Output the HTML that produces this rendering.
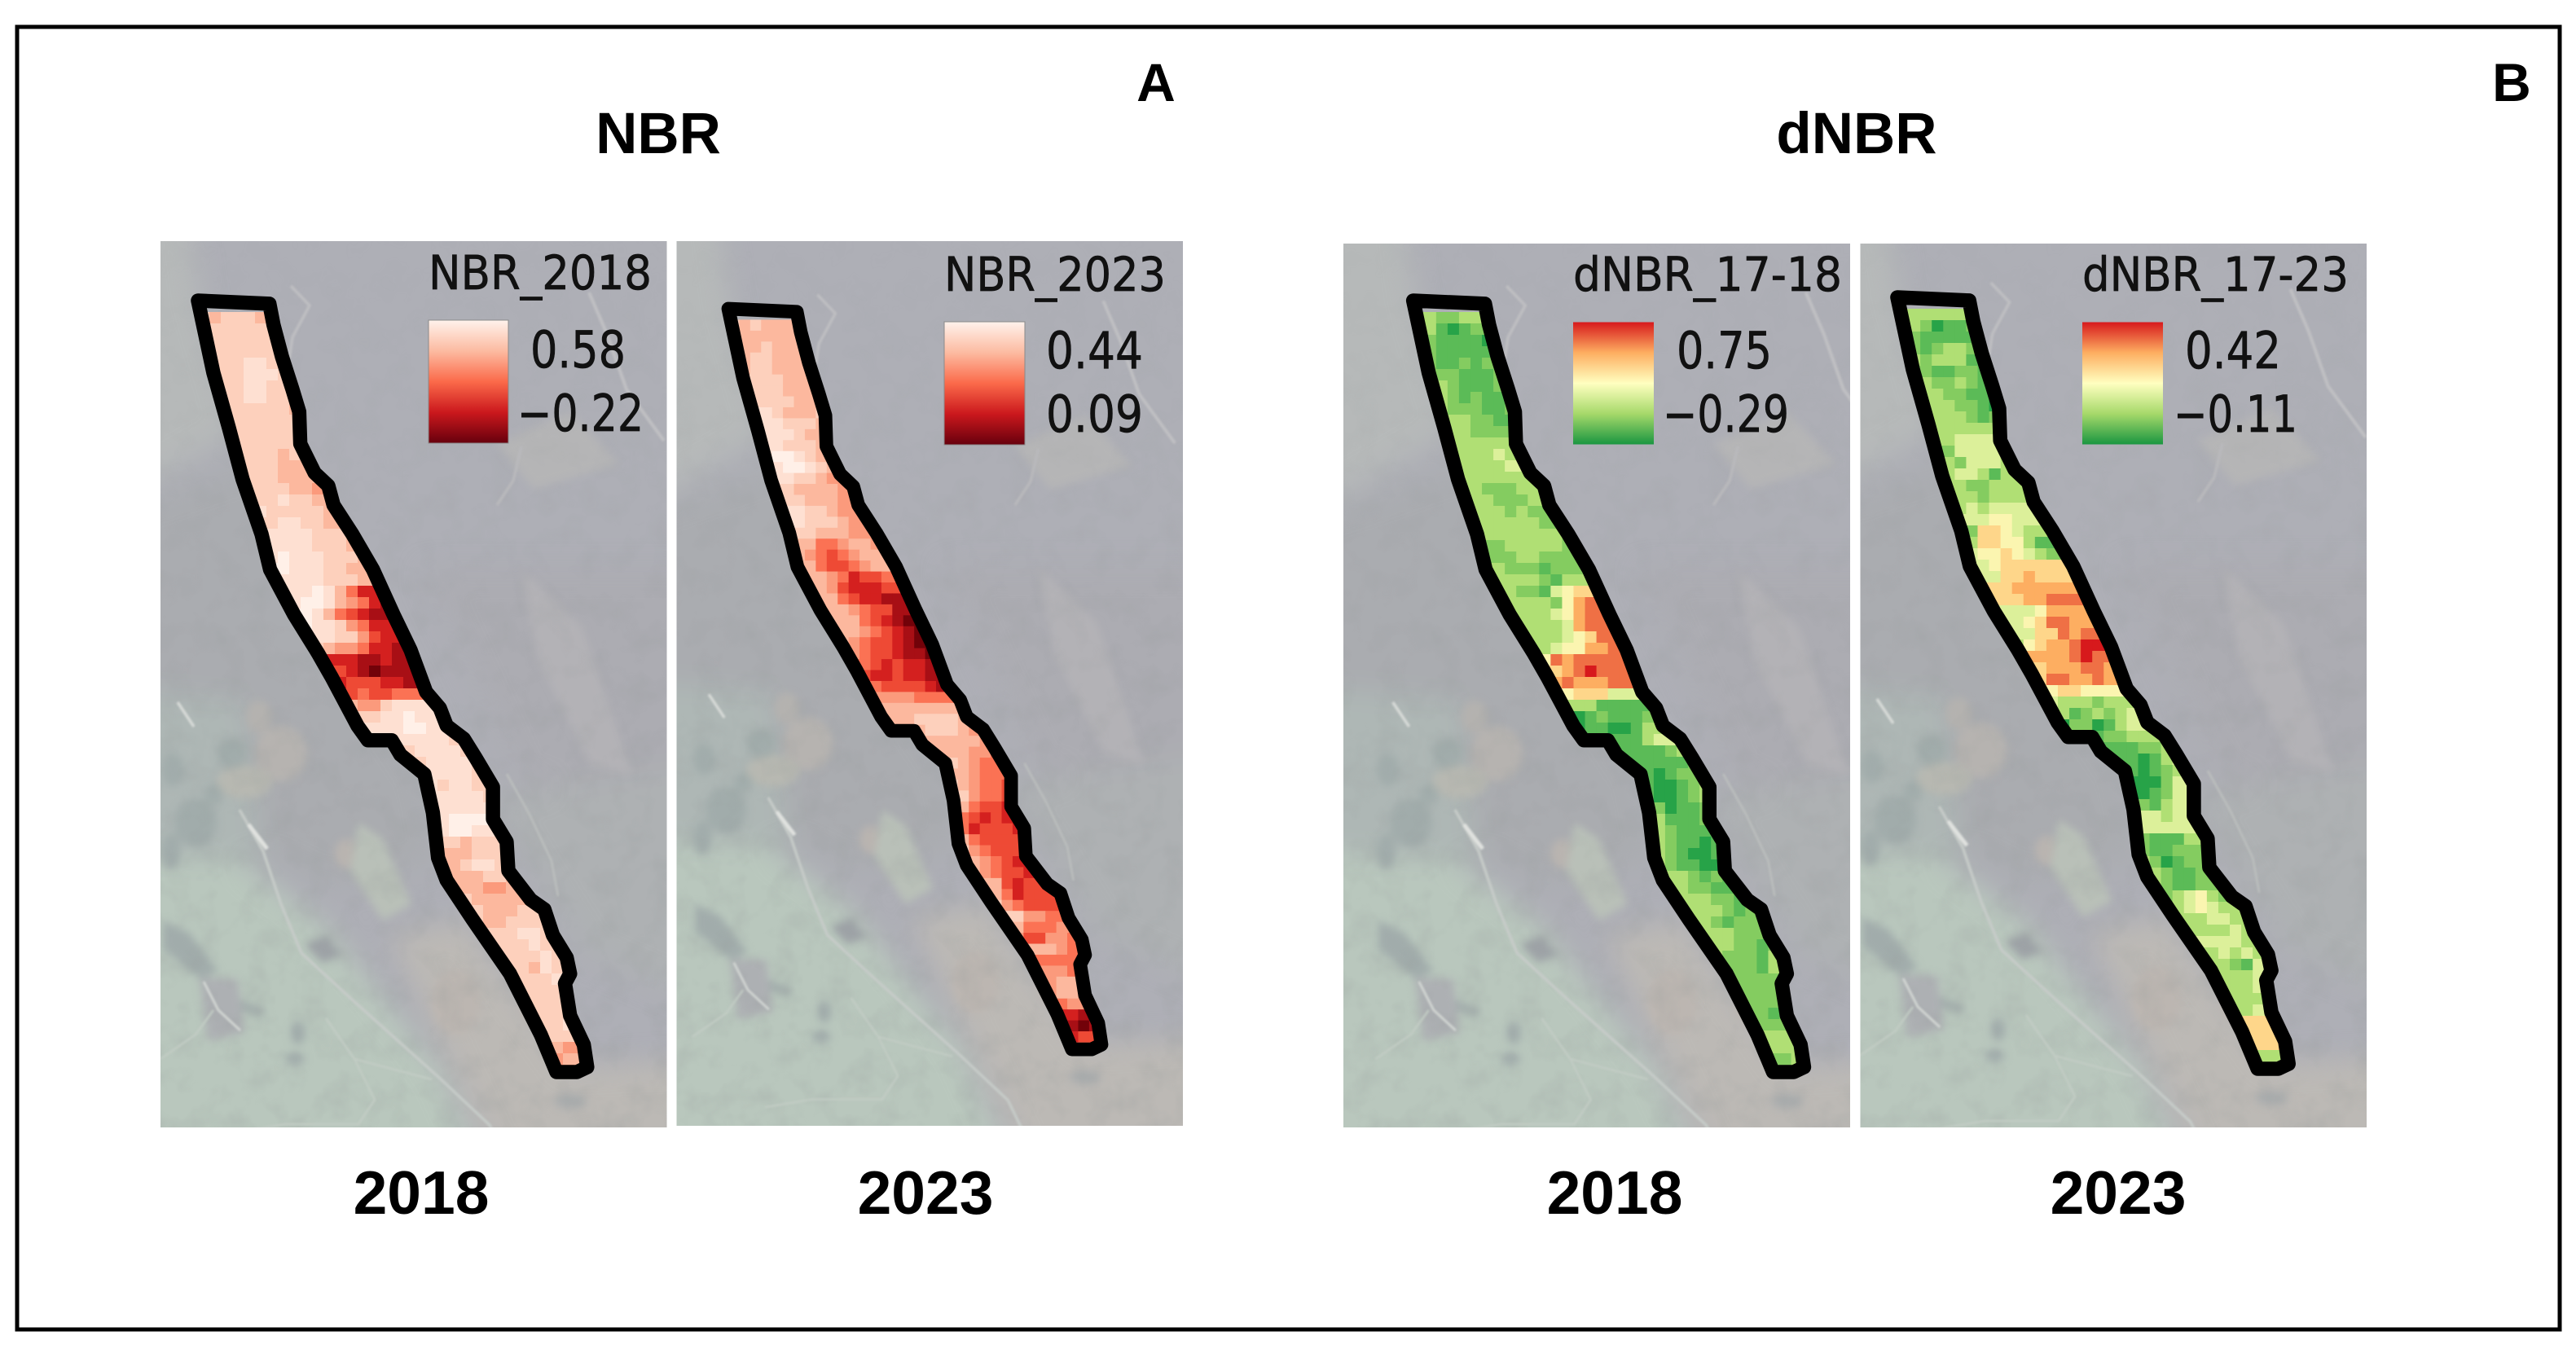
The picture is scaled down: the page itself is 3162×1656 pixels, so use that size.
<!DOCTYPE html>
<html lang="en">
<head>
<meta charset="utf-8">
<title>NBR and dNBR maps</title>
<style>
html,body{margin:0;padding:0;background:#fff;width:3162px;height:1656px;overflow:hidden}
svg{display:block}
.h{font-family:"Liberation Sans",Arial,sans-serif;font-weight:700;fill:#000;text-anchor:middle}
.l{font-family:"DejaVu Sans",sans-serif;fill:#111;stroke:#111;stroke-width:.7;text-anchor:start}
</style>
</head>
<body>
<svg id="fig" xmlns="http://www.w3.org/2000/svg" width="3162" height="1656" viewBox="0 0 3162 1656">
<defs>
<filter id="b16" x="-30%" y="-30%" width="160%" height="160%" color-interpolation-filters="sRGB"><feGaussianBlur stdDeviation="16"/></filter>
<filter id="b4" x="-30%" y="-30%" width="160%" height="160%" color-interpolation-filters="sRGB"><feGaussianBlur stdDeviation="5"/></filter>
<filter id="b1" x="-20%" y="-20%" width="140%" height="140%" color-interpolation-filters="sRGB"><feGaussianBlur stdDeviation="1.4"/></filter>
<filter id="mottle" x="0" y="0" width="100%" height="100%" color-interpolation-filters="sRGB">
<feTurbulence type="fractalNoise" baseFrequency=".03" numOctaves="3" seed="7"/>
<feColorMatrix values="0 0 0 0 .58  0 0 0 0 .60  0 0 0 0 .60  0 0 0 1.6 -.72"/>
</filter>
<linearGradient id="mottleFade" x1="0" y1="0" x2="0" y2="1">
<stop offset="0" stop-color="#fff" stop-opacity="0"/><stop offset=".45" stop-color="#fff" stop-opacity=".25"/><stop offset="1" stop-color="#fff" stop-opacity=".3"/>
</linearGradient>
<mask id="mottleMask" maskUnits="userSpaceOnUse" x="120" y="250" width="760" height="1200"><rect x="120" y="250" width="760" height="1200" fill="url(#mottleFade)"/></mask>
<linearGradient id="redsRamp" x1="0" y1="0" x2="0" y2="1">
<stop offset="0" stop-color="#fff2ec"/><stop offset=".25" stop-color="#fcbba1"/><stop offset=".5" stop-color="#fb6a4a"/><stop offset=".75" stop-color="#cb181d"/><stop offset="1" stop-color="#67000d"/>
</linearGradient>
<linearGradient id="rdylgnRamp" x1="0" y1="0" x2="0" y2="1">
<stop offset="0" stop-color="#d7191c"/><stop offset=".25" stop-color="#fdae61"/><stop offset=".5" stop-color="#ffffc0"/><stop offset=".75" stop-color="#a6d96a"/><stop offset="1" stop-color="#1a9641"/>
</linearGradient>
<g id="aerial">
<rect x="120" y="250" width="760" height="1200" fill="#aeafb6"/>
<g filter="url(#b16)">
<polygon points="100,240 228,240 246,370 292,530 100,640" fill="#b6b9b9"/>
<polygon points="100,640 330,560 420,800 520,950 540,1060 400,1090 300,1040 100,960" fill="#aaacb0"/>
<polygon points="520,700 900,700 900,1000 640,960" fill="#acacb2"/>
<polygon points="600,980 900,930 900,1250 720,1170" fill="#aeb1b3"/>
<polygon points="90,1000 300,1060 400,1136 540,1314 610,1470 90,1470" fill="#b9c7bd"/>
<polygon points="90,840 300,860 320,1060 90,1040" fill="#aeb7b5"/>
<polygon points="480,1150 570,1130 700,1310 900,1300 900,1470 630,1470" fill="#bcb9b5"/>
</g>
<g filter="url(#b4)">
<ellipse cx="345" cy="925" rx="32" ry="34" fill="#b6b3b0"/>
<ellipse cx="318" cy="880" rx="16" ry="20" fill="#b4b2af"/>
<ellipse cx="300" cy="960" rx="34" ry="20" fill="#b7b8b1"/>
<ellipse cx="425" cy="1048" rx="14" ry="18" fill="#b9b4b0"/>
<polygon points="640,700 715,770 775,950 725,940 660,810" fill="#b3b2b6"/>
<polygon points="610,545 700,505 760,570 655,600" fill="#b5b5b6"/>
<polygon points="440,1010 470,1030 505,1110 470,1130 430,1070" fill="#b9c0b8"/>
<ellipse cx="560" cy="1230" rx="30" ry="40" fill="#bcb6b1"/>
<ellipse cx="660" cy="1240" rx="22" ry="18" fill="#bdb6b0"/>
<g fill="#a1acab">
<ellipse cx="240" cy="1010" rx="26" ry="30"/>
<ellipse cx="285" cy="925" rx="18" ry="18"/>
<ellipse cx="212" cy="945" rx="14" ry="20"/>
<ellipse cx="262" cy="975" rx="12" ry="12"/>
<ellipse cx="210" cy="1045" rx="12" ry="22"/>
<polygon points="200,1130 232,1145 268,1192 246,1202 200,1165"/>
<polygon points="292,1226 325,1240 322,1248 288,1238"/>
<ellipse cx="366" cy="1268" rx="9" ry="14"/>
<ellipse cx="362" cy="1300" rx="12" ry="8"/>
</g>
<polygon points="374,1160 400,1148 420,1172 396,1182" fill="#9da2a6"/>
<polygon points="245,1200 292,1202 300,1268 255,1278" fill="#adb0b3"/>
<ellipse cx="700" cy="1352" rx="20" ry="9" fill="#a9acad"/>
</g>
<g mask="url(#mottleMask)"><rect x="120" y="250" width="760" height="1200" filter="url(#mottle)"/></g>
<g filter="url(#b1)" fill="none" stroke="#c6cbc8" stroke-width="3.5">
<polyline points="294,994 323,1045 345,1110 370,1170 432,1227 538,1322 601,1381 620,1420"/>
<polyline points="357,351 380,375 359,414 355,440" stroke="#bfbfc2"/>
<polyline points="723,359 745,410 769,478 815,541" stroke="#c0c0c3" stroke-width="4"/>
<polyline points="640,548 630,590 610,620" stroke="#b9b9bc"/>
<polyline points="622,950 650,1000 677,1057 685,1100" stroke="#bcbfbe" stroke-width="2.5"/>
<polyline points="197,1300 240,1270 262,1240" stroke="#c2ccc4" stroke-width="2.5"/>
<polyline points="400,1250 435,1300 530,1325" stroke="#c2ccc4" stroke-width="2.5"/>
<polyline points="435,1300 460,1350 440,1380 350,1380 290,1390" stroke="#c2ccc4" stroke-width="2.5"/>
<polyline points="250,1205 268,1240 295,1265" stroke="#d2d6d3" stroke-width="3"/>
<polyline points="305,1012 328,1042" stroke="#e0e2df" stroke-width="5"/>
<polyline points="218,862 238,892" stroke="#d8dbd8" stroke-width="3.5"/>
</g>
</g>
</defs>
<rect width="3162" height="1656" fill="#fff"/>
<rect x="21" y="33" width="3121" height="1599" fill="none" stroke="#000" stroke-width="5"/>

<text class="h" x="808" y="188" font-size="71">NBR</text>
<text class="h" x="2279" y="188" font-size="71">dNBR</text>
<text class="h" x="1419" y="124" font-size="66">A</text>
<text class="h" x="3083" y="124" font-size="66">B</text>
<text class="h" x="517" y="1490" font-size="75">2018</text>
<text class="h" x="1136" y="1490" font-size="75">2023</text>
<text class="h" x="1982" y="1490" font-size="75">2018</text>
<text class="h" x="2600" y="1490" font-size="75">2023</text>

<g id="maps"></g>

<g>
<text class="l" x="526" y="355" font-size="58" textLength="274" lengthAdjust="spacingAndGlyphs">NBR_2018</text>
<rect x="526" y="393" width="98" height="151" fill="url(#redsRamp)" stroke="#8a8a8a" stroke-width="1"/>
<text class="l" x="651" y="451" font-size="62" textLength="117" lengthAdjust="spacingAndGlyphs">0.58</text>
<text class="l" x="635" y="529" font-size="62" textLength="155" lengthAdjust="spacingAndGlyphs">−0.22</text>
</g>
<g>
<text class="l" x="1159" y="357" font-size="58" textLength="272" lengthAdjust="spacingAndGlyphs">NBR_2023</text>
<rect x="1159" y="395" width="99" height="151" fill="url(#redsRamp)" stroke="#8a8a8a" stroke-width="1"/>
<text class="l" x="1284" y="452" font-size="62" textLength="119" lengthAdjust="spacingAndGlyphs">0.44</text>
<text class="l" x="1284" y="530" font-size="62" textLength="119" lengthAdjust="spacingAndGlyphs">0.09</text>
</g>
<g>
<text class="l" x="1931" y="357" font-size="58" textLength="330" lengthAdjust="spacingAndGlyphs">dNBR_17-18</text>
<rect x="1931" y="395.5" width="99" height="150" fill="url(#rdylgnRamp)"/>
<text class="l" x="2058" y="452" font-size="62" textLength="117" lengthAdjust="spacingAndGlyphs">0.75</text>
<text class="l" x="2041" y="530" font-size="62" textLength="155" lengthAdjust="spacingAndGlyphs">−0.29</text>
</g>
<g>
<text class="l" x="2556" y="357" font-size="58" textLength="327" lengthAdjust="spacingAndGlyphs">dNBR_17-23</text>
<rect x="2556" y="395.5" width="99" height="150" fill="url(#rdylgnRamp)"/>
<text class="l" x="2682" y="452" font-size="62" textLength="118" lengthAdjust="spacingAndGlyphs">0.42</text>
<text class="l" x="2668" y="530" font-size="62" textLength="152" lengthAdjust="spacingAndGlyphs">−0.11</text>
</g>
</svg>

<script>
// Heat-map cell values, read row by row (north to south, west to east across the strip).
// Units: ramp level 0..9. Reds: 0 = palest, 9 = darkest. RdYlGn: 0 = darkest green, 9 = red.
const nbr2018Levels = [
[2,3,2,2,2,3],[2,2,2,2,2,2],[2,2,2,2,2,2],[2,2,2,2,2,2],[2,2,2,1,1,2],[2,2,1,1,1,2,3],[2,2,1,1,2,2,3],[2,2,1,1,2,2,3],[2,2,2,2,2,2,3],[2,2,2,2,2,2,2],
[2,2,2,2,2,2,2],[2,2,2,2,2,2,2],[2,2,2,2,3,2,2],[2,2,2,3,3,3,3],[2,2,2,3,3,3,3,4],[2,2,2,2,3,3,4,4],[2,2,1,2,2,3,3,3],[1,2,2,2,2,2,3,3],[2,2,1,1,2,2,3,3],[1,1,1,1,2,2,2,3],
[1,1,1,1,2,2,2,3],[1,0,1,1,1,2,2,2,3],[0,0,1,1,1,2,2,3],[1,1,1,1,2,2,2,3,3],[1,1,1,0,1,3,5,7],[1,0,0,1,3,4,5,7,8],[0,1,3,5,6,7,8,8],[0,1,1,2,4,5,7,7],[1,1,2,2,4,6,7,7],[2,3,4,4,5,7,7,8],
[7,7,7,8,8,7,8],[6,7,8,9,8,8,8],[7,6,6,6,7,7,8],[6,5,6,6,5,5,5],[3,4,4,2,1,1,1],[2,2,1,1,0,1,1],[1,1,1,1,0,0,1,1],[1,1,1,1,1,1,1,2],[2,1,1,1,1,2,3],[2,1,1,1,1,2,3,4],
[1,1,1,1,2,2],[1,2,1,1,2,2,3],[1,1,1,1,1,2,2],[1,1,1,1,1,2,3],[1,0,0,0,0,2],[1,0,0,1,1,2],[2,2,3,2,2,2],[3,3,3,2,2,2],[3,3,2,1,1,2,2],[3,3,3,2,2,3,3],
[3,3,3,4,4,3,3],[2,3,3,3,3,3,3,3],[2,3,3,3,2,2,3,3],[2,3,3,2,2,2,2,3],[2,2,2,1,1,2,2,3],[2,2,2,1,2,2,3,4],[2,2,2,2,1,2,4,4],[2,2,3,1,2,3,4],[2,2,2,1,2,3],[2,2,2,2,2,2],
[2,2,2,2,2,2],[2,2,2,2,1],[2,2,1,1,1],[2,2,2,2],[3,4,4],[4,3,3],[4,3]
];
const nbr2023Levels = [
[2,3,2,3,3,3],[3,3,3,3,3,3],[3,3,2,3,3,3],[3,2,2,3,3,3],[3,2,2,3,3,3],[2,2,2,3,3,3,3],[2,2,2,3,3,3,3],[2,2,2,2,3,3,3],[1,1,2,3,3,3,2],[1,1,2,2,2,3,3],
[1,1,1,2,3,3,3],[1,1,2,2,2,3,3],[1,0,0,1,2,3,3],[1,0,0,1,2,3,4],[1,1,2,2,3,4,4],[2,2,3,3,3,3,4],[2,2,3,3,3,4,4],[1,1,2,2,3,4,4],[1,1,2,2,2,3,4,4],[2,2,3,3,3,4,4,4],
[3,3,5,5,4,3,3,4],[3,4,5,6,5,4,3,3],[3,3,5,6,6,5,4,3],[3,3,4,5,7,6,6,5],[3,3,4,6,7,7,7,6],[3,3,5,6,7,7,8,8],[3,3,4,5,6,6,8,8],[3,3,3,5,6,7,8,9],[3,3,4,5,6,7,8,9],[3,4,5,6,6,7,8,9],
[4,5,6,6,7,8,8,9],[5,6,7,6,7,7,8],[6,7,7,6,7,7,8],[5,6,6,6,6,7,8],[4,4,4,4,5,5,5],[3,3,3,3,3,3,3],[3,3,3,2,2,2,2,3,4],[3,3,3,2,2,2,3,4],[3,3,3,3,3,4,4],[3,3,3,4,4,5],
[2,3,4,5,5,5],[3,3,4,5,5,5],[2,3,4,5,5,6],[2,4,5,5,6],[3,5,6,6,7,6],[5,6,7,6,7],[5,7,6,6,6,7],[3,5,6,6,6,6],[2,4,5,6,6,6],[3,4,5,6,7],
[3,4,5,6,6,7],[3,3,6,7,6,6],[3,5,7,6,6],[2,4,5,6,6,6,6],[2,2,4,4,5,5],[3,5,5,5,4],[4,6,6,4,4,5],[3,3,3,4,5],[5,5,5,5,5,6],[4,4,4,5,5],
[4,3,3,4],[4,3,3,4],[5,4,4],[7,7,8,8],[8,9,8],[7,6,6],[5,5]
];
const dnbr1718Levels = [
[3,3,2,2,3,3],[3,1,0,1,2,2],[2,1,1,1,1,0],[2,1,1,1,1,1],[2,1,1,2,1,2],[2,2,1,1,1,2,2],[3,2,1,1,1,2,2],[3,2,1,2,1,1,2],[3,2,2,2,1,1,2],[3,3,2,2,1,1,1],
[3,3,2,2,2,2,2],[3,3,3,3,3,3,3],[3,3,3,3,4,3,3],[3,3,3,3,4,4,3],[3,3,3,3,3,3,3],[3,3,2,2,2,3,3],[3,3,2,2,2,3,3],[3,3,3,2,3,2,2],[3,3,3,3,3,3,2],[3,3,3,3,3,3,3,2],
[2,2,3,3,3,3,3,2],[2,2,2,3,3,2,2,2],[3,3,2,2,2,1,2,2],[3,3,3,3,2,1,3,3],[3,3,2,2,1,4,5,6],[3,3,3,3,2,5,7,8],[3,3,3,4,5,7,8,8],[3,3,3,3,4,7,8,8,8],[3,3,3,4,5,6,8,8],[3,3,4,5,5,7,7,8,8],
[5,8,7,8,8,8,8],[6,7,8,9,8,8,8],[7,8,7,7,7,8,8],[5,6,6,6,4,4,4],[3,3,3,1,1,1,1],[0,1,2,1,1,1,2],[0,1,1,0,0,1,3],[1,1,1,1,1,3,4],[1,1,1,1,2,3,4],[1,1,1,1,1,2,3],
[1,0,1,2,2,3],[1,0,0,1,2,3],[1,0,0,1,2,3],[2,0,1,1,2,3],[3,1,1,1,2,2],[3,2,1,1,1,1],[3,2,1,1,0,1,1],[3,2,1,0,0,1,1],[3,2,1,1,0,0,1],[3,3,2,1,2,1],
[3,3,2,2,1,1],[3,3,3,2,2,1,1],[3,3,3,2,1,2,2],[3,3,2,1,2,2,2],[3,3,3,2,2,2,2],[3,3,2,2,1,2,3],[3,2,2,2,1,3,3],[2,2,2,1,3,3],[2,2,2,2,2],[2,2,2,2,2],
[2,2,2,1,2],[2,2,1,2],[2,2,2,2],[3,3,3,3],[3,3,3],[2,2,3],[2,3]
];
const dnbr1723Levels = [
[3,3,3,3,3,3],[3,2,0,1,1,2],[2,1,1,1,1],[2,1,2,3,3,2],[3,2,3,3,3,1],[2,1,1,2,2,1],[3,2,2,3,2,1],[3,3,2,2,1,1,0],[3,3,3,2,2,1,0],[3,3,3,2,1,2,2],
[3,3,3,3,3,3],[3,3,4,4,4,4],[2,2,4,4,4,4],[3,2,4,4,4,3],[3,4,4,3,1,3],[3,3,2,2,3,3],[3,3,2,3,3,3],[3,4,3,4,4,4,4],[4,4,4,5,5,4,4],[2,6,6,5,4,3,3],
[3,6,6,5,5,3,1],[4,5,5,6,5,4,3,2],[4,4,5,6,6,6,6],[4,4,6,6,7,6,6],[6,6,6,7,7,7,7],[6,6,6,7,7,8,8],[4,4,4,5,7,7,7,7],[4,4,5,6,8,8,7,7],[4,4,6,6,8,7,8],[3,5,6,7,7,8,9],
[7,7,7,7,8,9,8],[6,7,7,7,8,8,7],[6,8,8,7,7,8,7,7],[5,6,6,5,5,5,5],[4,3,3,3,2,3],[3,1,2,3,2,3,4],[0,2,2,0,1,3,4],[1,1,1,2,2,3],[1,1,1,2,2,3],[1,1,0,1,3,4],
[1,0,1,2,3,4],[0,0,0,2,4],[0,0,1,2,4],[2,1,3,4,4],[4,4,3,4,4],[4,4,4,4,4],[2,1,1,1,3,3],[2,1,1,2,2],[3,2,0,1,2,2],[3,2,1,1,2,2],
[3,2,1,1,2,2],[2,3,4,5,3,2,2],[3,4,5,4,3,3],[3,3,3,4,4,3,3],[3,3,3,3,4,3,3],[4,4,4,4,3,3,3],[3,3,4,3,4,3],[3,3,2,1,4,4],[3,3,3,4,4],[3,3,3,4,4],
[3,3,3,3],[3,3,4],[6,6],[6,6],[6,6],[3,3,3],[3,4]
];
const panelNames = ['nbr-2018','nbr-2023','dnbr-17-18','dnbr-17-23'];
const panelValues = [nbr2018Levels,nbr2023Levels,dnbr1718Levels,dnbr1723Levels];

const redsColors = ['#fff0e8','#fee0d2','#fdd0bc','#fcb89e','#fb9a7c','#fb7254','#ee4a35','#d4201f','#a80f15','#720209'];
const rdylgnColors = ['#27a348','#5bbb57','#84cc60','#b0df74','#dcf09a','#fbf5b0','#fed68a','#fdae61','#ef7045','#d7191c'];

const ns='http://www.w3.org/2000/svg';
// Study-area outline (map coordinates of the first panel).
const outline=[[243,369],[330.7,372.9],[335.7,398.6],[346.2,438.2],[358.9,477.7],[367.3,505.4],[368.6,544.9],[386.2,580.5],[403,596.3],[409.4,620],[432.5,655.6],[457.8,699.1],[483,754.5],[504,798],[523,849.4],[539.9,869.2],[548.3,890.9],[569.3,906.8],[584,930.5],[605.1,966.1],[605.1,1005.6],[621.9,1033.3],[624,1068.9],[651.4,1104.5],[668.2,1116.3],[678.7,1148],[695.6,1175.6],[699.8,1195.4],[693.5,1207.3],[699.8,1246.8],[716.6,1282.4],[720.8,1310],[708.2,1316],[683,1316],[664,1270.5],[626.1,1195.4],[579.8,1128.2],[548.3,1080.7],[537.7,1053],[531.4,997.7],[520.9,950.3],[491.5,926.5],[480.9,908.7],[451.5,908.7],[438.8,890.9],[407.3,831.6],[390.4,802],[361,754.5],[331.5,699.1],[321,655.6],[297.8,588.4],[281,525.2],[262,457.9]];
const cell=14, gridX0=243, gridY0=383;

function edgeRange(y){
  let lo=Infinity,hi=-Infinity;
  for(let i=0;i<outline.length;i++){
    const a=outline[i],b=outline[(i+1)%outline.length];
    if((a[1]<=y&&b[1]>y)||(b[1]<=y&&a[1]>y)){
      const x=a[0]+(y-a[1])/(b[1]-a[1])*(b[0]-a[0]);
      if(x<lo)lo=x; if(x>hi)hi=x;
    }
  }
  return [lo,hi];
}
function rowY(r){return gridY0+r*cell;}
function colX(c){return gridX0+c*cell;}
function levelColor(ramp,v){const i=Math.max(0,Math.min(ramp.length-1,Math.round(v)));return ramp[i];}

function mk(tag,attrs){const e=document.createElementNS(ns,tag);for(const k in attrs)e.setAttribute(k,attrs[k]);return e;}

const frames=[
 {x:197,y:296,w:621.5,h:1088,tx:243,ty:369,sx:1,sy:1,ramp:redsColors},
 {x:830.5,y:296,w:621.5,h:1086,tx:894,ty:379,sx:.9586,sy:.96,ramp:redsColors},
 {x:1649,y:299,w:622,h:1085,tx:1734.7,ty:369,sx:1.004,sy:1,ramp:rdylgnColors},
 {x:2283.5,y:299,w:621.5,h:1085,tx:2329,ty:365,sx:1.005,sy:1,ramp:rdylgnColors}
];
const maps=document.getElementById('maps');
const defs=document.querySelector('defs');
const pts=outline.map(p=>p.join(',')).join(' ');
const stripClip=mk('clipPath',{id:'strip'});
stripClip.appendChild(mk('polygon',{points:pts}));
defs.appendChild(stripClip);

frames.forEach(function(f,i){
  const clip=mk('clipPath',{id:'frame'+i});
  clip.appendChild(mk('rect',{x:f.x,y:f.y,width:f.w,height:f.h}));
  defs.appendChild(clip);
  const panel=mk('g',{'clip-path':'url(#frame'+i+')'});
  
  
  const t=mk('g',{transform:'translate('+f.tx+' '+f.ty+') scale('+f.sx+' '+f.sy+') translate(-243 -369)'});
  const bg=mk('use',{href:'#aerial'});
  
  
  t.appendChild(bg);
  const heat=mk('g',{'clip-path':'url(#strip)'});
  
  
  panelValues[i].forEach(function(row,r){
    const y=rowY(r);
    const range=edgeRange(y+cell/2);
    if(!isFinite(range[0]))return;
    const startCol=Math.floor((range[0]+9-gridX0)/cell);
    let c=startCol-1,k=-1;
    while(colX(c)<range[1]+cell){
      const v=row[Math.max(0,Math.min(row.length-1,k))];
      const el=mk('rect',{x:colX(c),y:y,width:cell+.4,height:cell+.4,fill:levelColor(f.ramp,v)});
      
      
      heat.appendChild(el);
      c++;k++;
    }
  });
  t.appendChild(heat);
  const line=mk('polygon',{points:pts,fill:'none',stroke:'#000','stroke-width':17.5,'stroke-linejoin':'round'});
  
  
  t.appendChild(line);
  panel.appendChild(t);
  maps.appendChild(panel);
});
</script>
</body>
</html>
